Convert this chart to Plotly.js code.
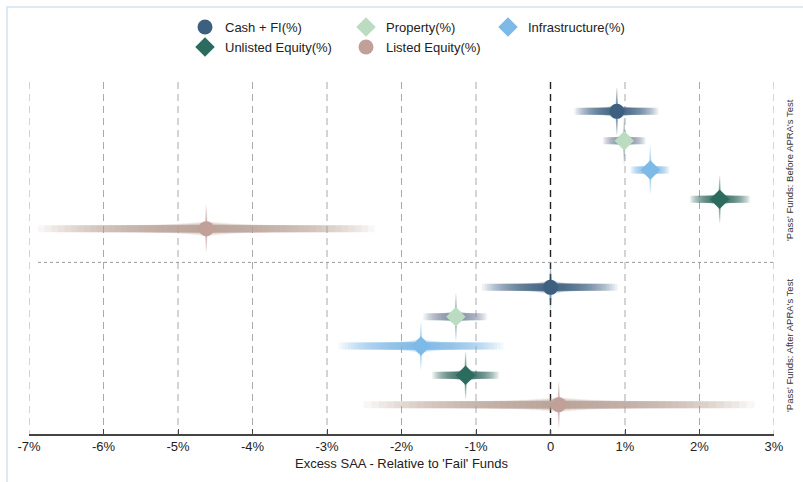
<!DOCTYPE html>
<html><head><meta charset="utf-8">
<script src="https://cdn.plot.ly/plotly-3.0.1.min.js"></script>
<style>html,body{margin:0;padding:0;background:#fff}#chart{width:803px;height:482px}</style>
</head><body><div id="chart"></div>
<script>
// ---- data (percent) ----
const seriesNames = ['Cash + FI(%)', 'Property(%)', 'Infrastructure(%)', 'Unlisted Equity(%)', 'Listed Equity(%)'];
const panelNames = ["'Pass' Funds: Before APRA's Test", "'Pass' Funds: After APRA's Test"];

const beforeEst = [0.89, 0.99, 1.34, 2.27, -4.62];
const beforeLo  = [0.32, 0.70, 1.07, 1.87, -6.88];
const beforeHi  = [1.45, 1.28, 1.60, 2.68, -2.36];

const afterEst  = [0.00, -1.27, -1.74, -1.14, 0.11];
const afterLo   = [-0.92, -1.71, -2.85, -1.59, -2.51];
const afterHi   = [0.90, -0.85, -0.63, -0.69, 2.74];

const tickVals = [-7, -6, -5, -4, -3, -2, -1, 0, 1, 2, 3];
const tickText = ['-7%', '-6%', '-5%', '-4%', '-3%', '-2%', '-1%', '0', '1%', '2%', '3%'];

// ---- styles ----
const markerSymbols = ['circle', 'diamond', 'diamond', 'diamond', 'circle'];
const markerColors = ['#3d6080', '#bcdcc2', '#7dbae8', '#2b6c5e', '#c0a098'];
const bandColors   = ['#3d6080', '#7b90a6', '#7dbae8', '#2b6c5e', '#bf9d96'];
const FONT = '"Liberation Sans", Arial, Helvetica, sans-serif';

const panels = [
  {est: beforeEst, lo: beforeLo, hi: beforeHi, offset: 0},
  {est: afterEst,  lo: afterLo,  hi: afterHi,  offset: 6}
];

const traces = [];
const N = 30, M = 12;
for (let s = 0; s < seriesNames.length; s++) {
  // horizontal gradient band: nested intervals
  for (let k = 1; k <= N; k++) {
    const f = Math.pow(k / N, 1.2);
    const xs = [], ys = [];
    panels.forEach(p => {
      const row = p.offset + s;
      xs.push(p.est[s] - f * (p.est[s] - p.lo[s]), p.est[s] + f * (p.hi[s] - p.est[s]), null);
      ys.push(row, row, null);
    });
    traces.push({type: 'scatter', mode: 'lines', x: xs, y: ys,
      line: {color: bandColors[s], width: 7 + 9 * Math.pow(1 - f, 5)},
      opacity: 0.085, hoverinfo: 'skip', showlegend: false});
  }
  // vertical spike
  for (let k = 1; k <= M; k++) {
    const g = k / M;
    const xs = [], ys = [];
    panels.forEach(p => {
      const row = p.offset + s;
      xs.push(p.est[s], p.est[s], null);
      ys.push(row - g * 0.8, row + g * 0.8, null);
    });
    traces.push({type: 'scatter', mode: 'lines', x: xs, y: ys,
      line: {color: bandColors[s], width: 1.3 + 7 * Math.pow(1 - g, 3)},
      opacity: 0.12, hoverinfo: 'skip', showlegend: false});
  }
}
// point estimates (also legend entries)
for (let s = 0; s < seriesNames.length; s++) {
  traces.push({type: 'scatter', mode: 'markers', name: seriesNames[s],
    x: panels.map(p => p.est[s]), y: panels.map(p => p.offset + s),
    marker: {symbol: markerSymbols[s], size: 15, color: markerColors[s], line: {width: 0}},
    legend: s === 0 ? 'legend' : 'legend' + (s + 1), showlegend: true});
}

// legend placement (px of marker centre)
const L = 29, R = 29, T = 82, B = 48, W = 803, H = 482;
const pw = W - L - R, ph = H - T - B;
const px = x => (x - L) / pw;
const py = y => 1 - (y - T) / ph;
const legPos = [[205, 27], [366, 27], [508, 27], [205, 47], [366, 47]];

const gridShapes = tickVals.map(v => ({
  type: 'line', xref: 'x', yref: 'paper', x0: v, x1: v, y0: 1, y1: 0,
  line: v === 0 ? {color: '#222', width: 1.4, dash: '7px,5px'} : {color: '#aaaaaa', width: 1, dash: '7px,5px'},
  layer: 'below'
}));

const layout = {
  width: W, height: H,
  margin: {l: L, r: R, t: T, b: B},
  paper_bgcolor: '#ffffff', plot_bgcolor: '#ffffff',
  font: {family: FONT, size: 13, color: '#222'},
  xaxis: {
    range: [-7, 3], tickvals: tickVals, ticktext: tickText,
    showgrid: false, zeroline: false, showline: true, linecolor: '#444', linewidth: 1.5,
    ticks: 'inside', ticklen: 5, tickcolor: '#444',
    tickfont: {size: 13, color: '#222', family: FONT},
    title: {text: "Excess SAA - Relative to 'Fail' Funds", font: {size: 13, color: '#222', family: FONT}, standoff: 6}
  },
  yaxis: {range: [11, -1], showgrid: false, zeroline: false, showticklabels: false, ticks: '', showline: false},
  shapes: gridShapes.concat([
    {type: 'line', xref: 'paper', yref: 'y', x0: px(38), x1: px(773), y0: 5.15, y1: 5.15,
      line: {color: '#999', width: 1, dash: 'dot'}, layer: 'below'},
    {type: 'rect', xref: 'paper', yref: 'paper', x0: px(7), x1: px(830), y0: py(7), y1: py(520),
      line: {color: '#d4e3f0', width: 1.5}, fillcolor: 'rgba(0,0,0,0)', layer: 'below'}
  ]),
  annotations: [
    {xref: 'paper', yref: 'y', x: px(789), y: 2, text: panelNames[0], textangle: -90, showarrow: false,
      xanchor: 'center', yanchor: 'middle', font: {size: 9.5, color: '#333', family: FONT}},
    {xref: 'paper', yref: 'y', x: px(789), y: 8, text: panelNames[1], textangle: -90, showarrow: false,
      xanchor: 'center', yanchor: 'middle', font: {size: 9.5, color: '#333', family: FONT}}
  ]
};
legPos.forEach((p, i) => {
  const key = i === 0 ? 'legend' : 'legend' + (i + 1);
  layout[key] = {x: px(p[0] - 20), y: py(p[1]), xanchor: 'left', yanchor: 'middle',
    orientation: 'h', bgcolor: 'rgba(0,0,0,0)', borderwidth: 0,
    font: {size: 13, color: '#222', family: FONT}, itemclick: false};
});

Plotly.newPlot('chart', traces, layout, {displayModeBar: false, staticPlot: true});
</script></body></html>
